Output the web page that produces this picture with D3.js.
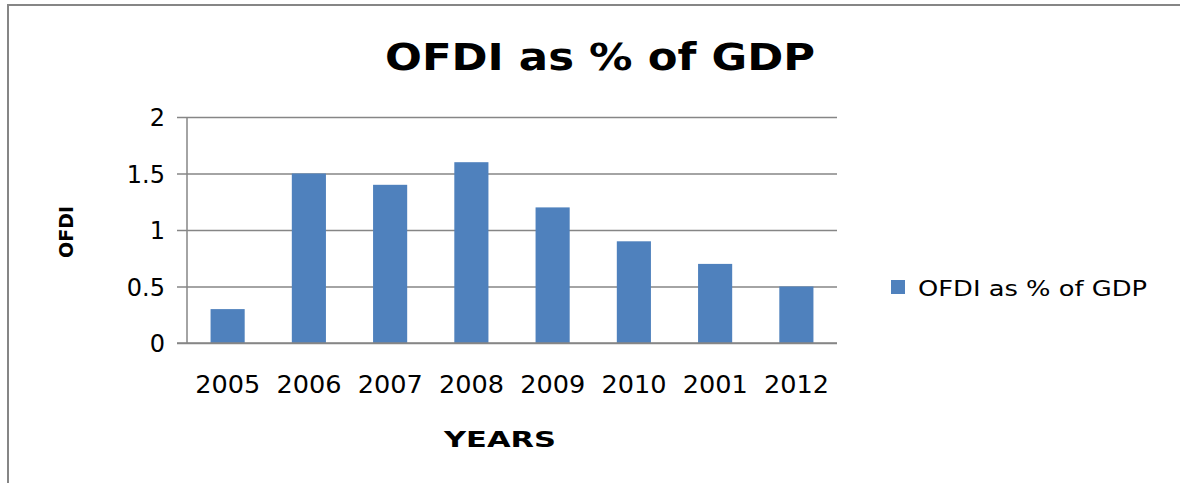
<!DOCTYPE html>
<html>
<head>
<meta charset="utf-8">
<script src="https://cdn.jsdelivr.net/npm/d3@7"></script>
<style>
  html, body { margin: 0; padding: 0; background: #fff; overflow: hidden; }
  svg { display: block; }
  text { font-family: "DejaVu Sans", Verdana, sans-serif; fill: #000; }
</style>
</head>
<body>
<svg id="chart" width="1180" height="483"></svg>
<script>
// OFDI as a share of GDP, by year
const years = ["2005", "2006", "2007", "2008", "2009", "2010", "2001", "2012"];
const ofdiValues = [0.3, 1.5, 1.4, 1.6, 1.2, 0.9, 0.7, 0.5];
const yTicks = [0, 0.5, 1, 1.5, 2];
const seriesName = "OFDI as % of GDP";

const svg = d3.select("#chart");
const W = 1180, H = 483;
const plot = { left: 187, right: 837, top: 117, bottom: 343 };
const grey = "#868686";
const barColor = "#4F81BD";

// Outer chart frame: only its top and left edges fall inside the view
svg.append("line")
  .attr("x1", 8).attr("x2", W).attr("y1", 5).attr("y2", 5)
  .attr("stroke", grey).attr("stroke-width", 2);
svg.append("line")
  .attr("x1", 8).attr("x2", 8).attr("y1", 4).attr("y2", H)
  .attr("stroke", grey).attr("stroke-width", 2);

const gap = 0.58;
const x = d3.scaleBand()
  .domain(years)
  .range([plot.left, plot.right])
  .paddingInner(gap)
  .paddingOuter(gap / 2);

const y = d3.scaleLinear().domain([0, 2]).range([plot.bottom, plot.top]);

// Horizontal gridlines with short tick stubs on the left
const yAxis = d3.axisLeft(y)
  .tickValues(yTicks)
  .tickSize(-(plot.right - plot.left))
  .tickSizeOuter(0)
  .tickPadding(22)
  .tickFormat(d3.format("~g"));

const gy = svg.append("g")
  .attr("transform", `translate(${plot.left},0)`)
  .call(yAxis);
gy.select(".domain").remove();
gy.selectAll(".tick line")
  .attr("x1", -10)
  .attr("stroke", grey)
  .attr("stroke-width", 1.5);
gy.selectAll(".tick text")
  .style("font-size", "24px")
  .attr("fill", "#000")
  .attr("dy", "0.36em");

// Vertical axis line
svg.append("line")
  .attr("x1", plot.left).attr("x2", plot.left)
  .attr("y1", plot.top).attr("y2", plot.bottom)
  .attr("stroke", grey).attr("stroke-width", 1.5);

// Bars
svg.append("g")
  .selectAll("rect")
  .data(years.map((yr, i) => ({ yr, v: ofdiValues[i] })))
  .join("rect")
  .attr("x", d => x(d.yr))
  .attr("width", x.bandwidth())
  .attr("y", d => y(d.v))
  .attr("height", d => y(0) - y(d.v))
  .attr("fill", barColor);

// Baseline redrawn on top of the bars
svg.append("line")
  .attr("x1", plot.left - 10).attr("x2", plot.right)
  .attr("y1", y(0)).attr("y2", y(0))
  .attr("stroke", grey).attr("stroke-width", 1.5);

// Category labels
const xAxis = d3.axisBottom(x).tickSize(0).tickPadding(0);
const gx = svg.append("g")
  .attr("transform", `translate(0,${plot.bottom})`)
  .call(xAxis);
gx.select(".domain").remove();
gx.selectAll(".tick text")
  .style("font-size", "24px")
  .attr("fill", "#000")
  .attr("y", 50)
  .attr("dy", 0)
  .attr("textLength", 65)
  .attr("lengthAdjust", "spacingAndGlyphs");

// Title
svg.append("text")
  .attr("x", 600).attr("y", 70)
  .attr("text-anchor", "middle")
  .attr("textLength", 430)
  .attr("lengthAdjust", "spacingAndGlyphs")
  .style("font-size", "37px")
  .style("font-weight", "bold")
  .text("OFDI as % of GDP");

// Axis titles
svg.append("text")
  .attr("transform", `translate(73,232) rotate(-90)`)
  .attr("text-anchor", "middle")
  .attr("textLength", 52)
  .attr("lengthAdjust", "spacingAndGlyphs")
  .style("font-size", "20px")
  .style("font-weight", "bold")
  .text("OFDI");

svg.append("text")
  .attr("x", 500).attr("y", 447)
  .attr("text-anchor", "middle")
  .attr("textLength", 112)
  .attr("lengthAdjust", "spacingAndGlyphs")
  .style("font-size", "22px")
  .style("font-weight", "bold")
  .text("YEARS");

// Legend
const legend = svg.append("g").attr("transform", "translate(891,280)");
legend.append("rect")
  .attr("width", 14).attr("height", 14)
  .attr("fill", barColor);
legend.append("text")
  .attr("x", 27).attr("y", 16)
  .attr("textLength", 229)
  .attr("lengthAdjust", "spacingAndGlyphs")
  .style("font-size", "22px")
  .text(seriesName);
</script>
</body>
</html>
